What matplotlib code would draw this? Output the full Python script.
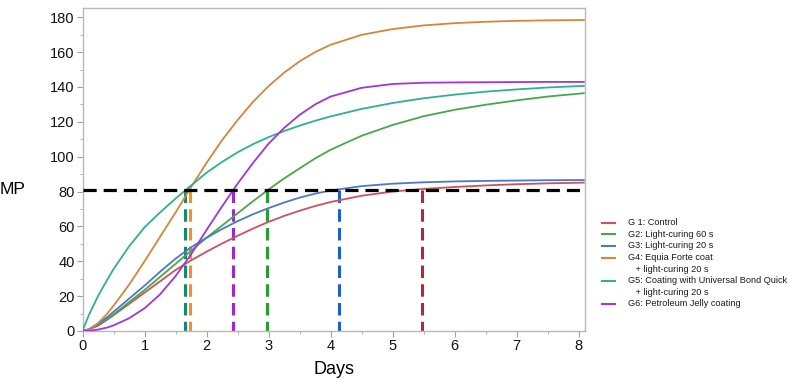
import matplotlib
matplotlib.use("Agg")
import matplotlib.pyplot as plt
from matplotlib.lines import Line2D
from matplotlib.ticker import MultipleLocator

plt.rcParams['font.family'] = ['Liberation Sans', 'DejaVu Sans']
plt.rcParams['lines.scale_dashes'] = False

days = [0, 0.1, 0.25, 0.4, 0.5, 0.75, 1, 1.25, 1.5, 1.75, 2, 2.25, 2.5, 2.75, 3,
        3.25, 3.5, 3.75, 4, 4.5, 5, 5.5, 6, 6.5, 7, 7.5, 8.08]

g1 = [0, 0.8, 3, 6.5, 9, 15.5, 22, 28.5, 35, 40.5, 45.5, 50.2, 54.6, 58.8, 62.6,
      66, 69, 71.7, 74, 77.6, 80, 81.5, 82.6, 83.5, 84.2, 84.7, 85.1]
g2 = [0, 0.8, 3.5, 7, 9.5, 16.5, 23.5, 31, 38.5, 46, 53.5, 60.5, 67.5, 74.5, 81.2,
      87.5, 93.3, 99, 104, 112, 118.2, 123.2, 126.9, 129.8, 132.3, 134.5, 136.4]
g3 = [0, 1, 4, 8, 11, 18.5, 26, 34, 41.5, 48, 53.5, 58.5, 63, 67, 70.5,
      73.7, 76.5, 78.8, 80.6, 83.1, 84.5, 85.3, 85.8, 86.1, 86.3, 86.5, 86.6]
g4 = [0, 0.8, 4.5, 10, 14.5, 26.5, 40, 54, 68, 82.5, 96.5, 109.5, 121, 131.5, 140.5,
      148.2, 154.7, 160, 164.2, 169.9, 173.2, 175.3, 176.6, 177.4, 177.9, 178.2, 178.4]
g5 = [0, 9, 20, 29.5, 35.5, 48.5, 59.5, 68, 76, 83.5, 90.8, 97, 102.5, 107.2, 111.2,
      114.7, 117.8, 120.6, 123.1, 127.4, 130.8, 133.5, 135.6, 137.3, 138.6, 139.7, 140.6]
g6 = [0, 0.1, 0.8, 2, 3.2, 7.3, 13, 21, 31.5, 44, 58, 71.5, 84.5, 96.5, 107.5,
      116.5, 124, 130, 134.5, 139.5, 141.7, 142.4, 142.6, 142.7, 142.8, 142.9, 142.9]

series = [g1, g2, g3, g4, g5, g6]
threshold = 81
cross_days = [5.47, 2.98, 4.14, 1.73, 1.66, 2.43]

labels = [["G 1: Control"],
          ["G2: Light-curing 60 s"],
          ["G3: Light-curing 20 s"],
          ["G4: Equia Forte coat", "   + light-curing 20 s"],
          ["G5: Coating with Universal Bond Quick", "   + light-curing 20 s"],
          ["G6: Petroleum Jelly coating"]]

colors = ["#d0505c", "#48a848", "#4a78d0", "#d4873a", "#30b090", "#a035e0"]
dash_colors = ["#b0283c", "#24a030", "#1c5ed0", "#f0902a", "#168a68", "#9a28d8"]

fig = plt.figure(figsize=(7.88, 3.8), dpi=100)
ax = fig.add_axes([0.1047, 0.129, 0.6377, 0.850])

for ys, c in zip(series, colors):
    ax.plot(days, ys, color=c, lw=1.3, zorder=3)

ax.plot([0, 8.1], [threshold, threshold], color="black", lw=2.3,
        dashes=(9.5, 5), zorder=4, clip_on=False)
for d, c in zip(cross_days, dash_colors):
    ax.plot([d, d], [threshold, 0], color=c, lw=2.2, dashes=(9, 4.5), zorder=2)

ax.set_xlim(0, 8.1)
ax.set_ylim(0, 185.3)
ax.xaxis.set_major_locator(MultipleLocator(1))
ax.xaxis.set_minor_locator(MultipleLocator(0.5))
ax.yaxis.set_major_locator(MultipleLocator(20))
ax.yaxis.set_minor_locator(MultipleLocator(10))
ax.tick_params(which='both', direction='out', color='#a0a0a0', labelsize=10.5,
               labelcolor='#111111')
ax.tick_params(which='major', length=4, pad=1.5)
ax.tick_params(which='minor', length=2.5)
for s in ax.spines.values():
    s.set_color('#b8b8b8')
    s.set_linewidth(1.0)

ax.set_xlabel("Days", fontsize=13, labelpad=6)
fig.text(0.0, 1 - 190 / 380, "MP", fontsize=12.5, va='center', ha='left')

# legend
y = 222.7
step = 11.6
for lab, c in zip(labels, colors):
    fig.add_artist(Line2D([602 / 788, 615 / 788], [1 - y / 380, 1 - y / 380],
                          color=c, lw=1.5, transform=fig.transFigure))
    for line in lab:
        fig.text(628 / 788, 1 - y / 380, line, fontsize=6.55, va='center',
                 ha='left', color='#1a1a1a')
        y += step

fig.savefig("out.png", dpi=100)
